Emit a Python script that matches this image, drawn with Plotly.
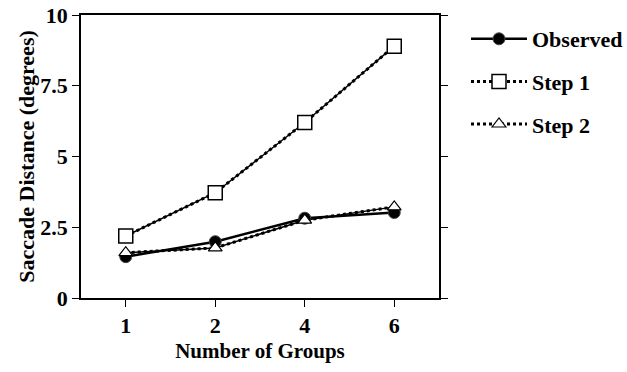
import plotly.graph_objects as go

groups = ["1", "2", "4", "6"]
observed = [1.46, 1.99, 2.82, 3.02]
step1 = [2.19, 3.72, 6.2, 8.9]
step2 = [1.6, 1.77, 2.75, 3.22]
yticks = [0, 2.5, 5, 7.5, 10]
ytick_labels = ["0", "2.5", "5", "7.5", "10"]

font = "Liberation Serif, Times New Roman, serif"
fig = go.Figure()

# underlying solid lines for model series
fig.add_trace(go.Scatter(x=groups, y=step1, mode="lines", line=dict(color="black", width=1.5),
                         showlegend=False, hoverinfo="skip"))
fig.add_trace(go.Scatter(x=groups, y=step2, mode="lines", line=dict(color="black", width=1.5),
                         showlegend=False, hoverinfo="skip"))

fig.add_trace(go.Scatter(x=groups, y=observed, mode="lines+markers", name="<b>Observed</b>",
                         legendgroup="a",
                         line=dict(color="black", width=2.5),
                         marker=dict(symbol="circle", size=12, color="black",
                                     line=dict(color="#444", width=1))))
fig.add_trace(go.Scatter(x=groups, y=step1, mode="lines+markers", name="<b>Step 1</b>",
                         legendgroup="b",
                         line=dict(color="black", width=3, dash="dot"),
                         marker=dict(symbol="square", size=14, color="white",
                                     line=dict(color="black", width=1.5))))
fig.add_trace(go.Scatter(x=groups, y=step2, mode="lines+markers", name="<b>Step 2</b>",
                         legendgroup="c",
                         line=dict(color="black", width=3, dash="dot"),
                         marker=dict(symbol="triangle-up", size=12, color="white",
                                     line=dict(color="black", width=1.2))))

W, H = 627, 372
L, T = 81, 15
PW, PH = 358, 283
fig.update_layout(
    width=W, height=H,
    margin=dict(l=L, r=W - L - PW, t=T, b=H - T - PH, autoexpand=False),
    plot_bgcolor="white", paper_bgcolor="white",
    font=dict(family=font, size=21, color="black"),
    showlegend=True,
    legend=dict(x=(466 - L) / PW, y=1 - (18 - T) / PH, xanchor="left", yanchor="top",
                font=dict(family=font, size=22, color="black"),
                tracegroupgap=11, itemwidth=56, bgcolor="rgba(0,0,0,0)"),
    xaxis=dict(
        type="category", range=[-0.5, 3.5],
        tickvals=groups, ticktext=[f"<b>{g}</b>" for g in groups],
        showline=True, linecolor="black", linewidth=1.5, mirror=True,
        ticks="outside", ticklen=7, tickcolor="black", tickwidth=1,
        showgrid=False, zeroline=False, automargin=False,
        tickfont=dict(family=font, size=22, color="black"),
        title=dict(text="<b>Number of Groups</b>", font=dict(family=font, size=21), standoff=6),
    ),
    yaxis=dict(
        range=[0, 10], tickvals=yticks, ticktext=[f"<b>{t}</b>" for t in ytick_labels],
        showline=True, linecolor="black", linewidth=1.5, mirror="ticks",
        ticks="outside", ticklen=7, tickcolor="black", tickwidth=1,
        showgrid=False, zeroline=False, automargin=False,
        tickfont=dict(family=font, size=22, color="black"),
        title=dict(text="<b>Saccade Distance (degrees)</b>", font=dict(family=font, size=22), standoff=0),
    ),
)
fig.write_html("out.html", config={"displayModeBar": False},
               post_script="document.body.style.margin='0';")
